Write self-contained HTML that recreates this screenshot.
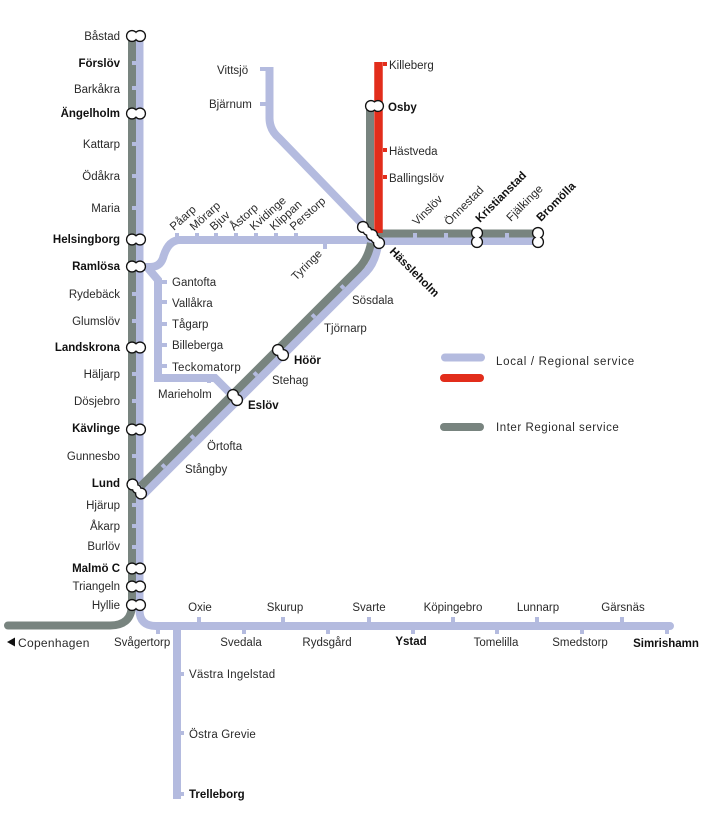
<!DOCTYPE html>
<html><head><meta charset="utf-8"><style>
html,body{margin:0;padding:0;background:#fff}
svg{display:block}
text{font-family:"Liberation Sans",sans-serif;font-size:11.5px;fill:#2a2a2a}
.b{font-weight:bold;fill:#111}
.e{text-anchor:end}
.m{text-anchor:middle}
.l{fill:none;stroke:#b4bbdf;stroke-width:8}
.g{fill:none;stroke:#78847f;stroke-width:8}
.r{fill:none;stroke:#e22d1b;stroke-width:8.500}
.t{fill:none;stroke:#b4bbdf;stroke-width:4}
.so{fill:#111;stroke:#111;stroke-width:2.600}
.si{fill:#fff;stroke:none}
</style></head><body>
<svg width="724" height="830" viewBox="0 0 724 830" xmlns="http://www.w3.org/2000/svg">
<defs>
<g id="st">
<circle cx="132" cy="36" r="4.800"/><circle cx="140" cy="36" r="4.800"/>
<circle cx="132" cy="113.500" r="4.800"/><circle cx="140" cy="113.500" r="4.800"/>
<circle cx="132" cy="239.500" r="4.800"/><circle cx="140" cy="239.500" r="4.800"/>
<circle cx="132" cy="266.500" r="4.800"/><circle cx="140" cy="266.500" r="4.800"/>
<circle cx="132" cy="347.500" r="4.800"/><circle cx="140" cy="347.500" r="4.800"/>
<circle cx="132" cy="429.500" r="4.800"/><circle cx="140" cy="429.500" r="4.800"/>
<circle cx="132" cy="568.500" r="4.800"/><circle cx="140" cy="568.500" r="4.800"/>
<circle cx="132" cy="586.500" r="4.800"/><circle cx="140" cy="586.500" r="4.800"/>
<circle cx="132" cy="605" r="4.800"/><circle cx="140" cy="605" r="4.800"/>
<circle cx="132.500" cy="484.500" r="4.800"/><circle cx="136.800" cy="489" r="3.600"/><circle cx="141" cy="493.500" r="4.800"/>
<circle cx="278" cy="350" r="4.800"/><circle cx="283" cy="355" r="4.800"/>
<circle cx="233" cy="395" r="4.800"/><circle cx="237" cy="400" r="4.800"/>
<circle cx="363" cy="227" r="4.800"/><circle cx="367.500" cy="231" r="3.600"/><circle cx="372" cy="235" r="4.800"/><circle cx="375.500" cy="239" r="3.600"/><circle cx="379" cy="243" r="4.800"/>
<circle cx="477" cy="233" r="4.800"/><circle cx="477" cy="242" r="4.800"/>
<circle cx="538" cy="233" r="4.800"/><circle cx="538" cy="242" r="4.800"/>
<circle cx="371" cy="106" r="4.800"/><circle cx="378" cy="106" r="4.800"/>
</g>
</defs>
<!-- light lines -->
<path class="l" d="M139.500 36V610Q139.500 626 156 626H670" stroke-linecap="round"/>
<path class="l" d="M177 626V799"/>
<path class="l" d="M143 267H150Q160 267 163 258Q168 240 180 240H372"/>
<path class="l" d="M147 267L158 280V378H215L235 398"/>
<path class="l" d="M269.500 67V118Q269.500 130 279 138L368 230"/>
<path class="l" d="M143 495L366 272Q375 263 378 245"/>
<path class="l" d="M372 241H538"/>
<path class="t" d="M260 69H268"/>
<!-- gray lines -->
<path class="g" d="M132 36V604Q132 625.500 110 625.500H8" stroke-linecap="round"/>
<path class="g" d="M141 486L358 269Q368 259 371 243"/>
<path class="g" d="M370 106V234"/>
<path class="g" d="M370 233.500H538"/>
<path class="r" d="M378.500 62V233"/>
<!-- ticks on gray -->
<path class="t" d="M132 63h4M132 88h4M132 144h4M132 176h4M132 208h4M132 294h4M132 321h4M132 374h4M132 401h4M132 456h4M132 505h4M132 526h4M132 547h4"/>
<path class="t" d="M165 467.500l-3 -3M194 438.500l-3 -3M257 375.500l-3 -3M315 317.500l-3 -3M344 288.500l-3 -3" stroke-width="4.500"/>
<path class="t" d="M415 233v5M446 233v5M507 233v5"/>
<!-- light ticks -->
<path class="t" d="M177 233v5M197 233v5M216 233v5M236 233v5M256 233v5M276 233v5M296 233v5M325 243v6"/>
<path class="t" d="M160 282h7M160 302h7M160 324h7M160 345h7M160 366h7M209 375v8"/>
<path class="t" d="M260 104h7M179 674h5M179 733h5M179 794h5"/>
<path class="t" d="M199 617v6M283 617v6M369 617v6M453 617v6M537 617v6M622 617v6M158 629v5M244 629v5M328 629v5M413 629v5M497 629v5M582 629v5M667 629v5"/>
<path d="M383 150h4M383 177h4M383 64h4" stroke="#e22d1b" stroke-width="4"/>
<!-- legend -->
<path d="M445 357.500H481" stroke="#b4bbdf" stroke-width="8" stroke-linecap="round"/>
<path d="M444 378H480" stroke="#e22d1b" stroke-width="8" stroke-linecap="round"/>
<path d="M444 427H480" stroke="#78847f" stroke-width="8" stroke-linecap="round"/>
<!-- station circles -->
<use href="#st" class="so"/>
<use href="#st" class="si"/>
<!-- left labels -->
<text class="e" x="120" y="40">Båstad</text>
<text class="e b" x="120" y="67">Förslöv</text>
<text class="e" x="120" y="93">Barkåkra</text>
<text class="e b" x="120" y="117">Ängelholm</text>
<text class="e" x="120" y="148">Kattarp</text>
<text class="e" x="120" y="180">Ödåkra</text>
<text class="e" x="120" y="212">Maria</text>
<text class="e b" x="120" y="243">Helsingborg</text>
<text class="e b" x="120" y="270">Ramlösa</text>
<text class="e" x="120" y="298">Rydebäck</text>
<text class="e" x="120" y="325">Glumslöv</text>
<text class="e b" x="120" y="351">Landskrona</text>
<text class="e" x="120" y="378">Häljarp</text>
<text class="e" x="120" y="405">Dösjebro</text>
<text class="e b" x="120" y="432">Kävlinge</text>
<text class="e" x="120" y="460">Gunnesbo</text>
<text class="e b" x="120" y="487">Lund</text>
<text class="e" x="120" y="509">Hjärup</text>
<text class="e" x="120" y="530">Åkarp</text>
<text class="e" x="120" y="550">Burlöv</text>
<text class="e b" x="120" y="572">Malmö C</text>
<text class="e" x="120" y="590">Triangeln</text>
<text class="e" x="120" y="609">Hyllie</text>
<path d="M7 642l8-4.500v9z" fill="#111"/>
<text x="18" y="647" style="font-size:12px;letter-spacing:.3px">Copenhagen</text>
<text x="114" y="646">Svågertorp</text>
<!-- branch labels -->
<text x="172" y="286">Gantofta</text>
<text x="172" y="307">Vallåkra</text>
<text x="172" y="328">Tågarp</text>
<text x="172" y="349">Billeberga</text>
<text x="172" y="371" style="letter-spacing:.3px">Teckomatorp</text>
<text x="158" y="398">Marieholm</text>
<text class="b" x="248" y="409">Eslöv</text>
<text class="b" x="294" y="364">Höör</text>
<text x="272" y="384">Stehag</text>
<text x="207" y="450">Örtofta</text>
<text x="185" y="473">Stångby</text>
<text x="324" y="332">Tjörnarp</text>
<text x="352" y="304">Sösdala</text>
<text x="217" y="74">Vittsjö</text>
<text x="209" y="108">Bjärnum</text>
<text x="389" y="69">Killeberg</text>
<text class="b" x="388" y="111">Osby</text>
<text x="389" y="155">Hästveda</text>
<text x="389" y="182">Ballingslöv</text>
<!-- rotated labels -->
<text transform="translate(174 231) rotate(-42)">Påarp</text>
<text transform="translate(194 231) rotate(-42)">Mörarp</text>
<text transform="translate(214 231) rotate(-42)">Bjuv</text>
<text transform="translate(234 231) rotate(-42)">Åstorp</text>
<text transform="translate(254 231) rotate(-42)">Kvidinge</text>
<text transform="translate(274 231) rotate(-42)">Klippan</text>
<text transform="translate(294 231) rotate(-42)">Perstorp</text>
<text transform="translate(296 281) rotate(-45)">Tyringe</text>
<text transform="translate(417 226) rotate(-45)">Vinslöv</text>
<text transform="translate(449 226) rotate(-45)">Önnestad</text>
<text class="b" transform="translate(480 223) rotate(-45)">Kristianstad</text>
<text transform="translate(511 222) rotate(-45)">Fjälkinge</text>
<text class="b" transform="translate(541 222) rotate(-45)">Bromölla</text>
<text class="b" transform="translate(389 252) rotate(45)">Hässleholm</text>
<!-- bottom labels -->
<text class="m" x="200" y="611">Oxie</text>
<text class="m" x="285" y="611">Skurup</text>
<text class="m" x="369" y="611">Svarte</text>
<text class="m" x="453" y="611">Köpingebro</text>
<text class="m" x="538" y="611">Lunnarp</text>
<text class="m" x="623" y="611">Gärsnäs</text>
<text class="m" x="241" y="646">Svedala</text>
<text class="m" x="327" y="646">Rydsgård</text>
<text class="m b" x="411" y="645">Ystad</text>
<text class="m" x="496" y="646">Tomelilla</text>
<text class="m" x="580" y="646">Smedstorp</text>
<text class="m b" x="666" y="647">Simrishamn</text>
<text x="189" y="678" style="letter-spacing:.2px">Västra Ingelstad</text>
<text x="189" y="738" style="letter-spacing:.15px">Östra Grevie</text>
<text class="b" x="189" y="798">Trelleborg</text>
<!-- legend text -->
<text x="496" y="365" style="letter-spacing:.7px">Local / Regional service</text>
<text x="496" y="431" style="letter-spacing:.55px">Inter Regional service</text>
</svg>
</body></html>
